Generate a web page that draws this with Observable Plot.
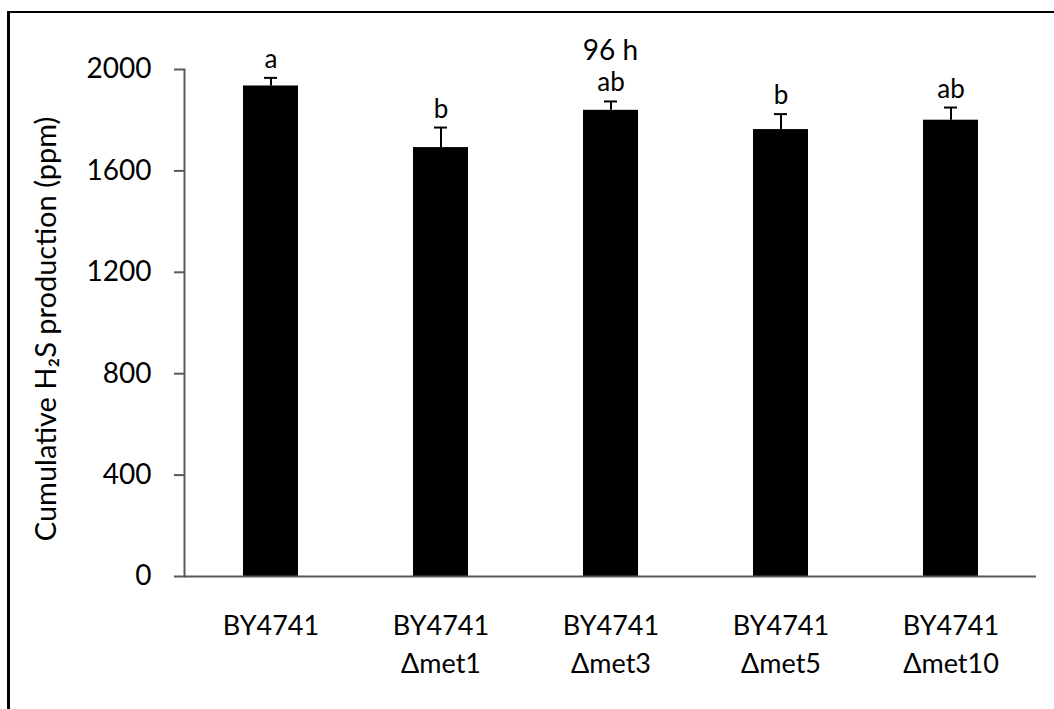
<!DOCTYPE html>
<html>
<head>
<meta charset="utf-8">
<script src="https://cdn.jsdelivr.net/npm/d3@7"></script>
<script src="https://cdn.jsdelivr.net/npm/@observablehq/plot@0.6"></script>
<style>
  html, body { margin: 0; padding: 0; background: #fff; overflow: hidden; }
  #wrap { position: relative; width: 1054px; height: 709px; }
  #border { position: absolute; left: 7px; top: 11px; width: 1100px; height: 800px;
            border-left: 3px solid #000; border-top: 2px solid #000; pointer-events: none; }
  #chart svg { display: block; font-family: Lato, "Open Sans", sans-serif; }
</style>
</head>
<body>
<div id="wrap">
  <div id="chart"></div>
  <div id="border"></div>
</div>
<script>
const strains = ["BY4741", "BY4741\nΔmet1", "BY4741\nΔmet3", "BY4741\nΔmet5", "BY4741\nΔmet10"];
const means = [1935, 1692, 1839, 1763, 1800];
const errors = [32, 79, 35, 61, 50];
const letters = ["a", "b", "ab", "b", "ab"];
const yTicks = [0, 400, 800, 1200, 1600, 2000];
const title = "96 h";
const yLabel = "Cumulative H₂S production (ppm)";

const data = strains.map((s, i) => ({strain: s, mean: means[i], err: errors[i], top: means[i] + errors[i], letter: letters[i]}));
const axisColor = "#595959";

const chart = Plot.plot({
  width: 1054,
  height: 709,
  marginLeft: 184,
  marginRight: 18,
  marginTop: 69,
  marginBottom: 133,
  style: {fontFamily: "Lato, 'Open Sans', sans-serif", color: "#000", background: "#fff"},
  x: {domain: strains, paddingInner: 0.677, paddingOuter: 0.3385, label: null},
  y: {domain: [0, 2000], label: null},
  marks: [
    Plot.barY(data, {x: "strain", y: "mean", fill: "#000"}),
    Plot.ruleX(data, {x: "strain", y1: "mean", y2: "top", stroke: "#000", strokeWidth: 2}),
    Plot.tickY(data, {x: "strain", y: "top", stroke: "#000", strokeWidth: 2, insetLeft: 21, insetRight: 21}),
    Plot.text(data, {x: "strain", y: "top", text: "letter", dy: -10, lineAnchor: "bottom", fontSize: 26, fill: "#000"}),
    Plot.frame({anchor: "left", stroke: axisColor, strokeWidth: 2}),
    Plot.ruleY([0], {stroke: axisColor, strokeWidth: 2}),
    Plot.axisY({ticks: yTicks, tickSize: 10, tickPadding: 23, tickFormat: d => String(d), fontSize: 28, stroke: axisColor, strokeWidth: 2, label: null, color: "#000"}),
    Plot.axisX({tickSize: 0, tickPadding: 32, fontSize: 27, lineHeight: 1.4, label: null, color: "#000"}),
    Plot.text([title], {frameAnchor: "top", dy: -29, fontSize: 28, fill: "#000"}),
    Plot.text([yLabel], {frameAnchor: "left", dx: -138, dy: 6, rotate: -90, textAnchor: "middle", lineAnchor: "middle", fontSize: 29, fill: "#000"})
  ]
});
document.getElementById("chart").appendChild(chart);
</script>
</body>
</html>
